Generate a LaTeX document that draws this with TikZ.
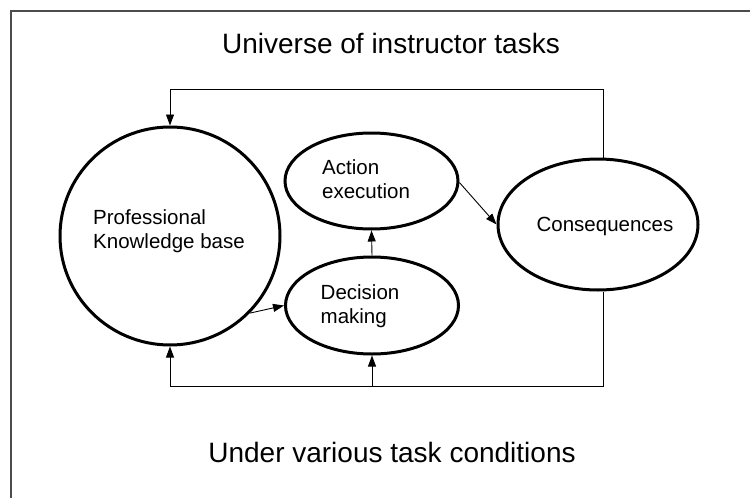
\documentclass[tikz,border=0pt]{standalone}
\usepackage{fontspec}
\setmainfont{Liberation Sans}
\usetikzlibrary{arrows.meta,shapes.geometric}
\begin{document}
\begin{tikzpicture}[x=1pt,y=-1pt,
  bub/.style={draw,line width=3pt,ellipse,inner sep=0pt},
  conn/.style={line width=0.9pt},
  arr/.style={conn,-{Triangle[length=11pt,width=8pt]}},
  lbl/.style={font=\fontsize{20.5}{24}\selectfont,align=left,inner sep=0pt,anchor=west}]
\useasboundingbox (0,0) rectangle (750,498);
\draw[line width=2pt,color=black!70] (10.7,498) -- (10.7,10.7) -- (750,10.7);
\node (title) at (391,43) {\fontsize{28}{32}\selectfont Universe of instructor tasks};
\node (foot) at (392,452) {\fontsize{28}{32}\selectfont Under various task conditions};
\node[bub,minimum width=220pt,minimum height=218pt] (pk) at (170,236) {};
\node[bub,minimum width=173pt,minimum height=96pt] (ae) at (371.5,181) {};
\node[bub,minimum width=173pt,minimum height=97pt] (dm) at (372,305.5) {};
\node[bub,minimum width=200pt,minimum height=131pt] (co) at (598,224.5) {};
\node[lbl] (pkt) at (93,231) {Professional\\Knowledge base};
\node[lbl] (aet) at (322,179) {Action\\execution};
\node[lbl] (dmt) at (320.5,306.5) {Decision\\making};
\node[font=\fontsize{20.5}{24}\selectfont,inner sep=0pt] (cot) at (605,226) {Consequences};
\coordinate (tl) at (170,89);
\coordinate (tr) at (603,89);
\coordinate (bl) at (170,386);
\coordinate (bm) at (372,386);
\coordinate (br) at (603,386);
\draw[conn] (co.north -| tr) -- (tr) -- (tl);
\draw[arr] (tl) -- (pk.north);
\draw[conn] (co.south -| br) -- (br) -- (bl);
\draw[arr] (bl) -- (pk.south);
\draw[arr] (bm) -- (dm.south);
\draw[arr] (dm.north) -- (ae.south);
\draw[arr] (ae.-1) -- (co.west);
\draw[arr] (pk.-44) -- (dm.west);
\end{tikzpicture}
\end{document}
